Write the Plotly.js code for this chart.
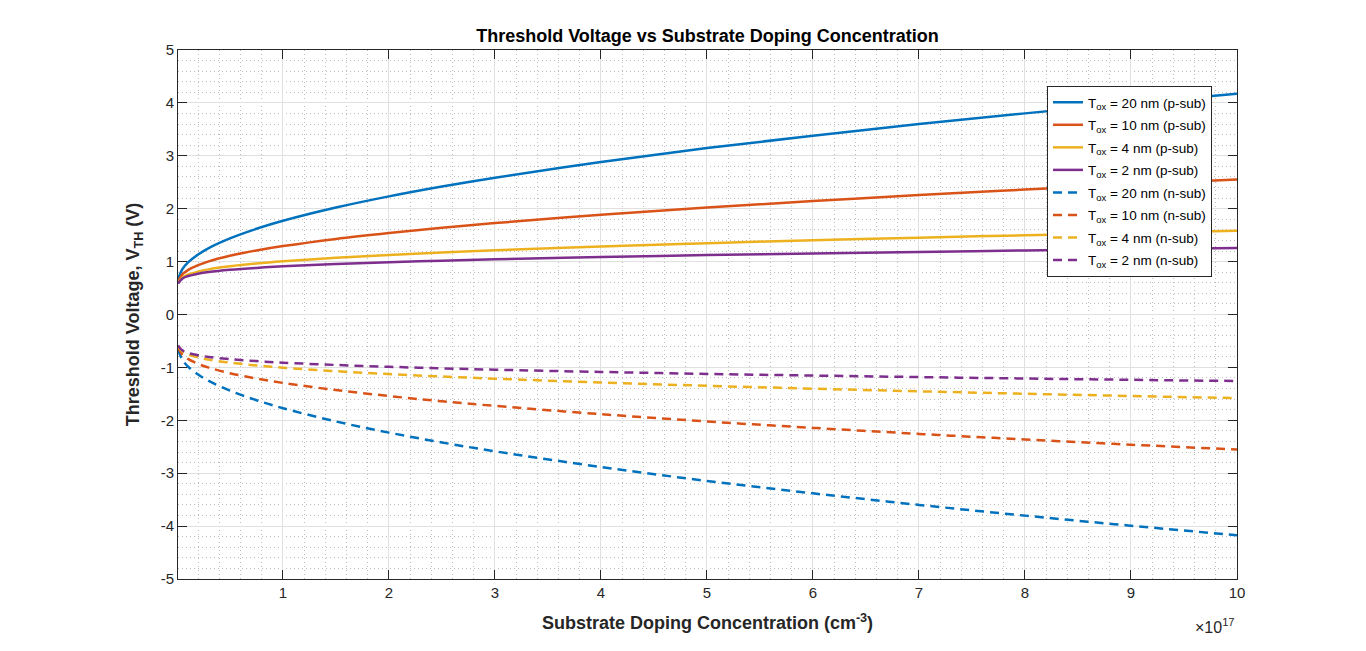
<!DOCTYPE html>
<html>
<head>
<meta charset="utf-8">
<script src="https://cdn.plot.ly/plotly-3.0.1.min.js"></script>
<style>
  html, body { margin: 0; padding: 0; background: #fff; }
  #gd { width: 1366px; height: 651px; }
</style>
</head>
<body>
<div id="gd"></div>
<script>
// doping concentration, cm^-3
const doping = [1e15, 5e15, 1e16, 2e16, 3e16, 5e16, 7.5e16, 1e17, 1.5e17, 2e17,
  2.5e17, 3e17, 4e17, 5e17, 6e17, 7e17, 8e17, 9e17, 1e18];

// threshold voltage, p-type substrate (V)
const vt20p = [0.657, 0.852, 0.975, 1.135, 1.256, 1.439, 1.620, 1.771, 2.022, 2.233,
  2.419, 2.586, 2.883, 3.146, 3.381, 3.599, 3.802, 3.993, 4.173];
const vt10p = [0.616, 0.755, 0.835, 0.933, 1.004, 1.109, 1.210, 1.293, 1.429, 1.541,
  1.641, 1.728, 1.884, 2.022, 2.144, 2.257, 2.362, 2.461, 2.553];
const vt4p = [0.592, 0.698, 0.751, 0.811, 0.853, 0.910, 0.963, 1.005, 1.072, 1.127,
  1.173, 1.214, 1.285, 1.348, 1.402, 1.452, 1.498, 1.541, 1.581];
const vt2p = [0.584, 0.678, 0.723, 0.771, 0.802, 0.844, 0.881, 0.910, 0.954, 0.988,
  1.018, 1.043, 1.086, 1.123, 1.154, 1.183, 1.210, 1.235, 1.257];

// n-type substrate (V)
const vt20n = [-0.657, -0.852, -0.975, -1.135, -1.256, -1.439, -1.620, -1.771, -2.022, -2.233,
  -2.419, -2.586, -2.883, -3.146, -3.381, -3.599, -3.802, -3.993, -4.173];
const vt10n = [-0.616, -0.755, -0.835, -0.933, -1.004, -1.109, -1.210, -1.293, -1.429, -1.541,
  -1.641, -1.728, -1.884, -2.022, -2.144, -2.257, -2.362, -2.461, -2.553];
const vt4n = [-0.592, -0.698, -0.751, -0.811, -0.853, -0.910, -0.963, -1.005, -1.072, -1.127,
  -1.173, -1.214, -1.285, -1.348, -1.402, -1.452, -1.498, -1.541, -1.581];
const vt2n = [-0.584, -0.678, -0.723, -0.771, -0.802, -0.844, -0.881, -0.910, -0.954, -0.988,
  -1.018, -1.043, -1.086, -1.123, -1.154, -1.183, -1.210, -1.235, -1.257];

const xTickVals = [1e17, 2e17, 3e17, 4e17, 5e17, 6e17, 7e17, 8e17, 9e17, 1e18];
const xTickText = ['1', '2', '3', '4', '5', '6', '7', '8', '9', '10'];
const yTickVals = [-5, -4, -3, -2, -1, 0, 1, 2, 3, 4, 5];
const yTickText = ['-5', '-4', '-3', '-2', '-1', '0', '1', '2', '3', '4', '5'];

const colors = ['#0072BD', '#D95319', '#EDB120', '#7E2F8E'];
const toxNames = ['20', '10', '4', '2'];
const pSeries = [vt20p, vt10p, vt4p, vt2p];
const nSeries = [vt20n, vt10n, vt4n, vt2n];

const data = [];
pSeries.forEach((ys, i) => {
  data.push({
    x: doping, y: ys, type: 'scatter', mode: 'lines',
    name: 'T<sub>ox</sub> = ' + toxNames[i] + ' nm (p-sub)',
    legendgroup: 'p' + i,
    line: {color: colors[i], width: 2.5, shape: 'spline'}
  });
});
nSeries.forEach((ys, i) => {
  data.push({
    x: doping, y: ys, type: 'scatter', mode: 'lines',
    name: 'T<sub>ox</sub> = ' + toxNames[i] + ' nm (n-sub)',
    legendgroup: 'n' + i,
    line: {color: colors[i], width: 2.5, dash: '9px,6px', shape: 'spline'}
  });
});

const axisCommon = {
  showline: true, linecolor: '#262626', linewidth: 1, mirror: 'ticks',
  ticks: 'inside', ticklen: 9, tickcolor: '#262626',
  showgrid: true, gridcolor: '#e0e0e0', zeroline: false,
  tickfont: {family: 'Liberation Sans, Arial, sans-serif', size: 15, color: '#262626'}
};
const minorGrid = {showgrid: true, gridcolor: '#bdbdbd', griddash: '1px,3px', gridwidth: 1, ticks: ''};

const layout = {
  width: 1366, height: 651,
  paper_bgcolor: '#fff', plot_bgcolor: '#fff',
  margin: {l: 178, r: 129, t: 50, b: 72},
  font: {family: 'Liberation Sans, Arial, sans-serif', color: '#000'},
  title: {
    text: '<b>Threshold Voltage vs Substrate Doping Concentration</b>',
    font: {size: 18, color: '#000'}, x: 0.5, xref: 'paper', y: 0.945, yanchor: 'middle'
  },
  xaxis: Object.assign({}, axisCommon, {
    range: [1e15, 1e18],
    tickvals: xTickVals, ticktext: xTickText,
    minor: Object.assign({dtick: 2e16, tick0: 0}, minorGrid),
    title: {text: '<b>Substrate Doping Concentration (cm<sup>-3</sup>)</b>', font: {size: 18, color: '#262626'}, standoff: 16}
  }),
  yaxis: Object.assign({}, axisCommon, {
    range: [-5, 5], tickvals: yTickVals, ticktext: yTickText,
    minor: Object.assign({dtick: 0.2}, minorGrid),
    title: {text: '<b>Threshold Voltage, V<sub>TH</sub> (V)</b>', font: {size: 18, color: '#262626'}, standoff: 16}
  }),
  legend: {
    x: 0.8206, y: 0.932, xanchor: 'left', yanchor: 'top',
    bgcolor: '#fff', bordercolor: '#262626', borderwidth: 1,
    font: {size: 13.5, color: '#000'}, traceorder: 'grouped', tracegroupgap: 2
  },
  annotations: [{
    xref: 'paper', yref: 'paper', x: 1, y: -0.066, xanchor: 'right', yanchor: 'top',
    text: '\u00d710<sup>17</sup>', showarrow: false,
    font: {size: 16, color: '#262626'}
  }],
  showlegend: true
};

Plotly.newPlot('gd', data, layout, {displayModeBar: false, staticPlot: true});
</script>
</body>
</html>
